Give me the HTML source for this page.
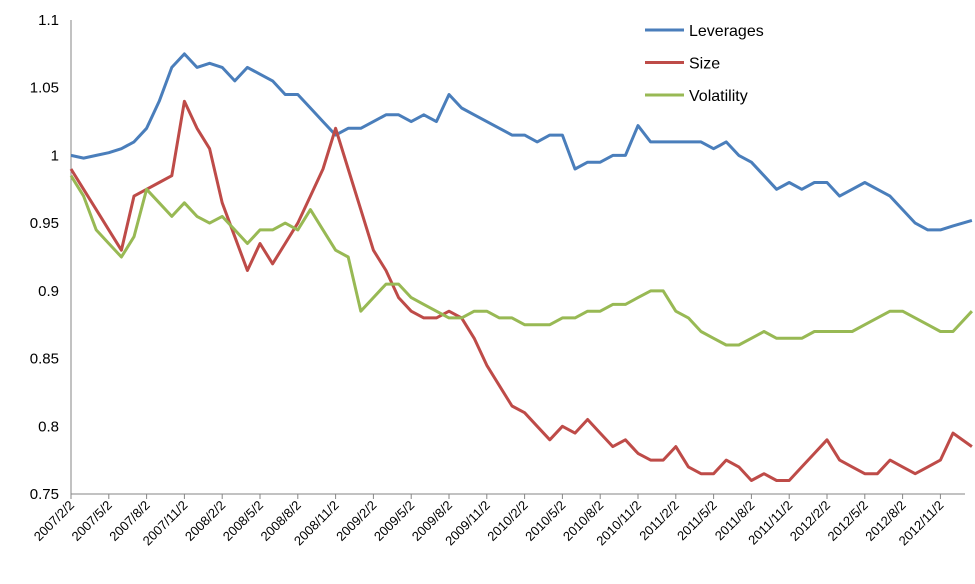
<!DOCTYPE html>
<html><head><meta charset="utf-8"><style>
body{margin:0;background:#fff;}
svg text{font-family:"Liberation Sans",sans-serif;fill:#000;}
</style></head><body>
<svg id="chart" width="975" height="579" viewBox="0 0 975 579" xmlns="http://www.w3.org/2000/svg">
<g id="axes"></g><g id="series"></g><g id="legend"></g>
</svg>
<script>
const xLabels=["2007/2/2","2007/5/2","2007/8/2","2007/11/2","2008/2/2","2008/5/2","2008/8/2","2008/11/2","2009/2/2","2009/5/2","2009/8/2","2009/11/2","2010/2/2","2010/5/2","2010/8/2","2010/11/2","2011/2/2","2011/5/2","2011/8/2","2011/11/2","2012/2/2","2012/5/2","2012/8/2","2012/11/2"];
const yTicks=[0.75,0.8,0.85,0.9,0.95,1,1.05,1.1];
const yTickLabels=["0.75","0.8","0.85","0.9","0.95","1","1.05","1.1"];
const months=[];for(let i=0;i<=70;i++)months.push(i);months.push(71.5);
const leverages=[1.0,0.998,1.0,1.002,1.005,1.01,1.02,1.04,1.065,1.075,1.065,1.068,1.065,1.055,1.065,1.06,1.055,1.045,1.045,1.035,1.025,1.015,1.02,1.02,1.025,1.03,1.03,1.025,1.03,1.025,1.045,1.035,1.03,1.025,1.02,1.015,1.015,1.01,1.015,1.015,0.99,0.995,0.995,1.0,1.0,1.022,1.01,1.01,1.01,1.01,1.01,1.005,1.01,1.0,0.995,0.985,0.975,0.98,0.975,0.98,0.98,0.97,0.975,0.98,0.975,0.97,0.96,0.95,0.945,0.945,0.948,0.952];
const size=[0.99,0.975,0.96,0.945,0.93,0.97,0.975,0.98,0.985,1.04,1.02,1.005,0.965,0.94,0.915,0.935,0.92,0.935,0.95,0.97,0.99,1.02,0.99,0.96,0.93,0.915,0.895,0.885,0.88,0.88,0.885,0.88,0.865,0.845,0.83,0.815,0.81,0.8,0.79,0.8,0.795,0.805,0.795,0.785,0.79,0.78,0.775,0.775,0.785,0.77,0.765,0.765,0.775,0.77,0.76,0.765,0.76,0.76,0.77,0.78,0.79,0.775,0.77,0.765,0.765,0.775,0.77,0.765,0.77,0.775,0.795,0.785];
const volatility=[0.985,0.97,0.945,0.935,0.925,0.94,0.975,0.965,0.955,0.965,0.955,0.95,0.955,0.945,0.935,0.945,0.945,0.95,0.945,0.96,0.945,0.93,0.925,0.885,0.895,0.905,0.905,0.895,0.89,0.885,0.88,0.88,0.885,0.885,0.88,0.88,0.875,0.875,0.875,0.88,0.88,0.885,0.885,0.89,0.89,0.895,0.9,0.9,0.885,0.88,0.87,0.865,0.86,0.86,0.865,0.87,0.865,0.865,0.865,0.87,0.87,0.87,0.87,0.875,0.88,0.885,0.885,0.88,0.875,0.87,0.87,0.885];
const seriesNames=["Leverages","Size","Volatility"];
const colors=["#4a7ebb","#be4b48","#98b954"];

const X0=71,X1=965,Y0=494,Y1=20,PXM=12.6;
const x=m=>X0+m*PXM;
const y=v=>Y0+(v-0.75)/(1.1-0.75)*(Y1-Y0);
const NS="http://www.w3.org/2000/svg";
function mk(t,a,p){const e=document.createElementNS(NS,t);for(const k in a)e.setAttribute(k,a[k]);p.appendChild(e);return e;}
const axes=document.getElementById('axes');
yTicks.forEach((v,i)=>{
 const t=mk('text',{x:59,y:y(v)+5,'text-anchor':'end','font-size':15},axes);
 t.textContent=yTickLabels[i];
 
 
});
const ya=mk('line',{x1:X0,y1:Y1,x2:X0,y2:Y0,stroke:'#868686','stroke-width':1},axes);


const xa=mk('line',{x1:X0,y1:Y0,x2:X1,y2:Y0,stroke:'#868686','stroke-width':1},axes);


xLabels.forEach((l,i)=>{
 const xx=x(i*3);
 mk('line',{x1:xx,y1:Y0,x2:xx,y2:Y0+5,stroke:'#868686'},axes);
 const t=mk('text',{x:xx+4,y:Y0+12,'text-anchor':'end','font-size':13,transform:`rotate(-45 ${xx+4} ${Y0+12})`},axes);
 t.textContent=l;
 
 
});
const sg=document.getElementById('series');
[leverages,size,volatility].forEach((d,si)=>{
 const pts=d.map((v,i)=>x(months[i]).toFixed(1)+','+y(v).toFixed(1)).join(' ');
 const p=mk('polyline',{points:pts,fill:'none',stroke:colors[si],'stroke-width':3,'stroke-linejoin':'round'},sg);
 
 
});
const lg=document.getElementById('legend');
seriesNames.forEach((n,i)=>{
 const yy=30+i*32.5;
 mk('line',{x1:645,y1:yy,x2:684,y2:yy,stroke:colors[i],'stroke-width':3},lg);
 const t=mk('text',{x:689,y:yy+6,'font-size':16},lg);
 t.textContent=n;
 
 
});
</script>
</body></html>
